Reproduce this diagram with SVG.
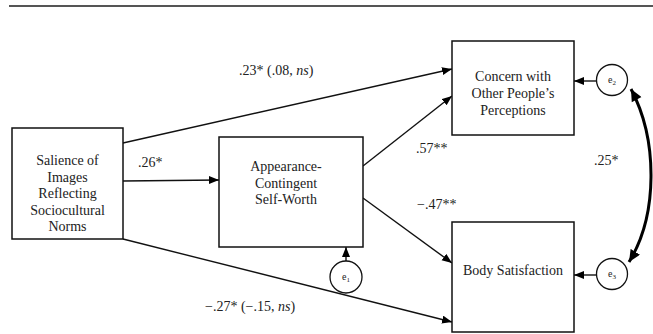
<svg xmlns="http://www.w3.org/2000/svg" width="653" height="334" viewBox="0 0 653 334">
<defs>
<marker id="ah" markerUnits="userSpaceOnUse" markerWidth="11" markerHeight="9" refX="10" refY="4" orient="auto">
<path d="M0,0 L10,4 L0,8 z" fill="#000"/>
</marker>
<marker id="ahb" markerUnits="userSpaceOnUse" markerWidth="14" markerHeight="12" refX="12" refY="5.5" orient="auto">
<path d="M0,0 L12,5.5 L0,11 z" fill="#000"/>
</marker>
<marker id="ahbs" markerUnits="userSpaceOnUse" markerWidth="14" markerHeight="12" refX="0" refY="5.5" orient="auto">
<path d="M12,0 L0,5.5 L12,11 z" fill="#000"/>
</marker>
</defs>
<style>
.box{fill:#fff;stroke:#111;stroke-width:1.5}
.err{fill:#fff;stroke:#111;stroke-width:1.3}
.t{font-family:"Liberation Serif","Times New Roman",serif;font-size:14px;fill:#222;text-anchor:middle}
.lbl{font-family:"Liberation Serif","Times New Roman",serif;font-size:14px;fill:#222}
.et{font-family:"Liberation Serif","Times New Roman",serif;font-size:10px;fill:#222;text-anchor:middle}
.c{stroke:#111;stroke-width:1.4;fill:none;marker-end:url(#ah)}
</style>
<line x1="9" y1="6" x2="653" y2="6" stroke="#555" stroke-width="2"/>
<g id="connectors">
<line class="c" x1="123" y1="143" x2="452" y2="69"/>
<line class="c" x1="123" y1="181" x2="219" y2="180"/>
<line class="c" x1="123" y1="239" x2="452" y2="322"/>
<line class="c" x1="363" y1="166" x2="452" y2="96"/>
<line class="c" x1="363" y1="198" x2="452" y2="263"/>
<line class="c" x1="346" y1="261" x2="346" y2="247"/>
<line class="c" x1="597" y1="81" x2="574" y2="81"/>
<line class="c" x1="596" y1="275" x2="574" y2="275"/>
<path d="M631,89 C658,140 658,215 629,262" fill="none" stroke="#000" stroke-width="3" marker-start="url(#ahbs)" marker-end="url(#ahb)"/>
</g>
<g id="labels">
<text class="lbl" x="239" y="75">.23* (.08, <tspan font-style="italic">ns</tspan>)</text>
<text class="lbl" x="138" y="167">.26*</text>
<text class="lbl" x="416" y="153">.57**</text>
<text class="lbl" x="417" y="209">−.47**</text>
<text class="lbl" x="594" y="165">.25*</text>
<text class="lbl" x="205" y="311">−.27* (−.15, <tspan font-style="italic">ns</tspan>)</text>
</g>
<g id="salience">
<rect class="box" x="12" y="128" width="111" height="111"/>
<text class="t" x="67.5" y="165">Salience of</text>
<text class="t" x="67.5" y="181.5">Images</text>
<text class="t" x="67.5" y="198">Reflecting</text>
<text class="t" x="67.5" y="214.5">Sociocultural</text>
<text class="t" x="67.5" y="231">Norms</text>
</g>
<g id="appearance">
<rect class="box" x="219" y="137" width="144" height="110"/>
<text class="t" x="286" y="171">Appearance-</text>
<text class="t" x="286" y="187.5">Contingent</text>
<text class="t" x="286" y="204">Self-Worth</text>
</g>
<g id="concern">
<rect class="box" x="452" y="41" width="122" height="94"/>
<text class="t" x="513" y="81">Concern with</text>
<text class="t" x="513" y="98">Other People’s</text>
<text class="t" x="513" y="115">Perceptions</text>
</g>
<g id="body">
<rect class="box" x="452" y="222" width="122" height="110"/>
<text class="t" x="513" y="274.5">Body Satisfaction</text>
</g>
<g id="e1">
<circle class="err" cx="346" cy="277" r="16"/>
<text class="et" x="346" y="280">e<tspan font-size="7" dy="1.5">1</tspan></text>
</g>
<g id="e2">
<circle class="err" cx="612" cy="80" r="15.5"/>
<text class="et" x="612" y="83">e<tspan font-size="7" dy="1.5">2</tspan></text>
</g>
<g id="e3">
<circle class="err" cx="612" cy="274" r="15.5"/>
<text class="et" x="612" y="277">e<tspan font-size="7" dy="1.5">3</tspan></text>
</g>
</svg>
